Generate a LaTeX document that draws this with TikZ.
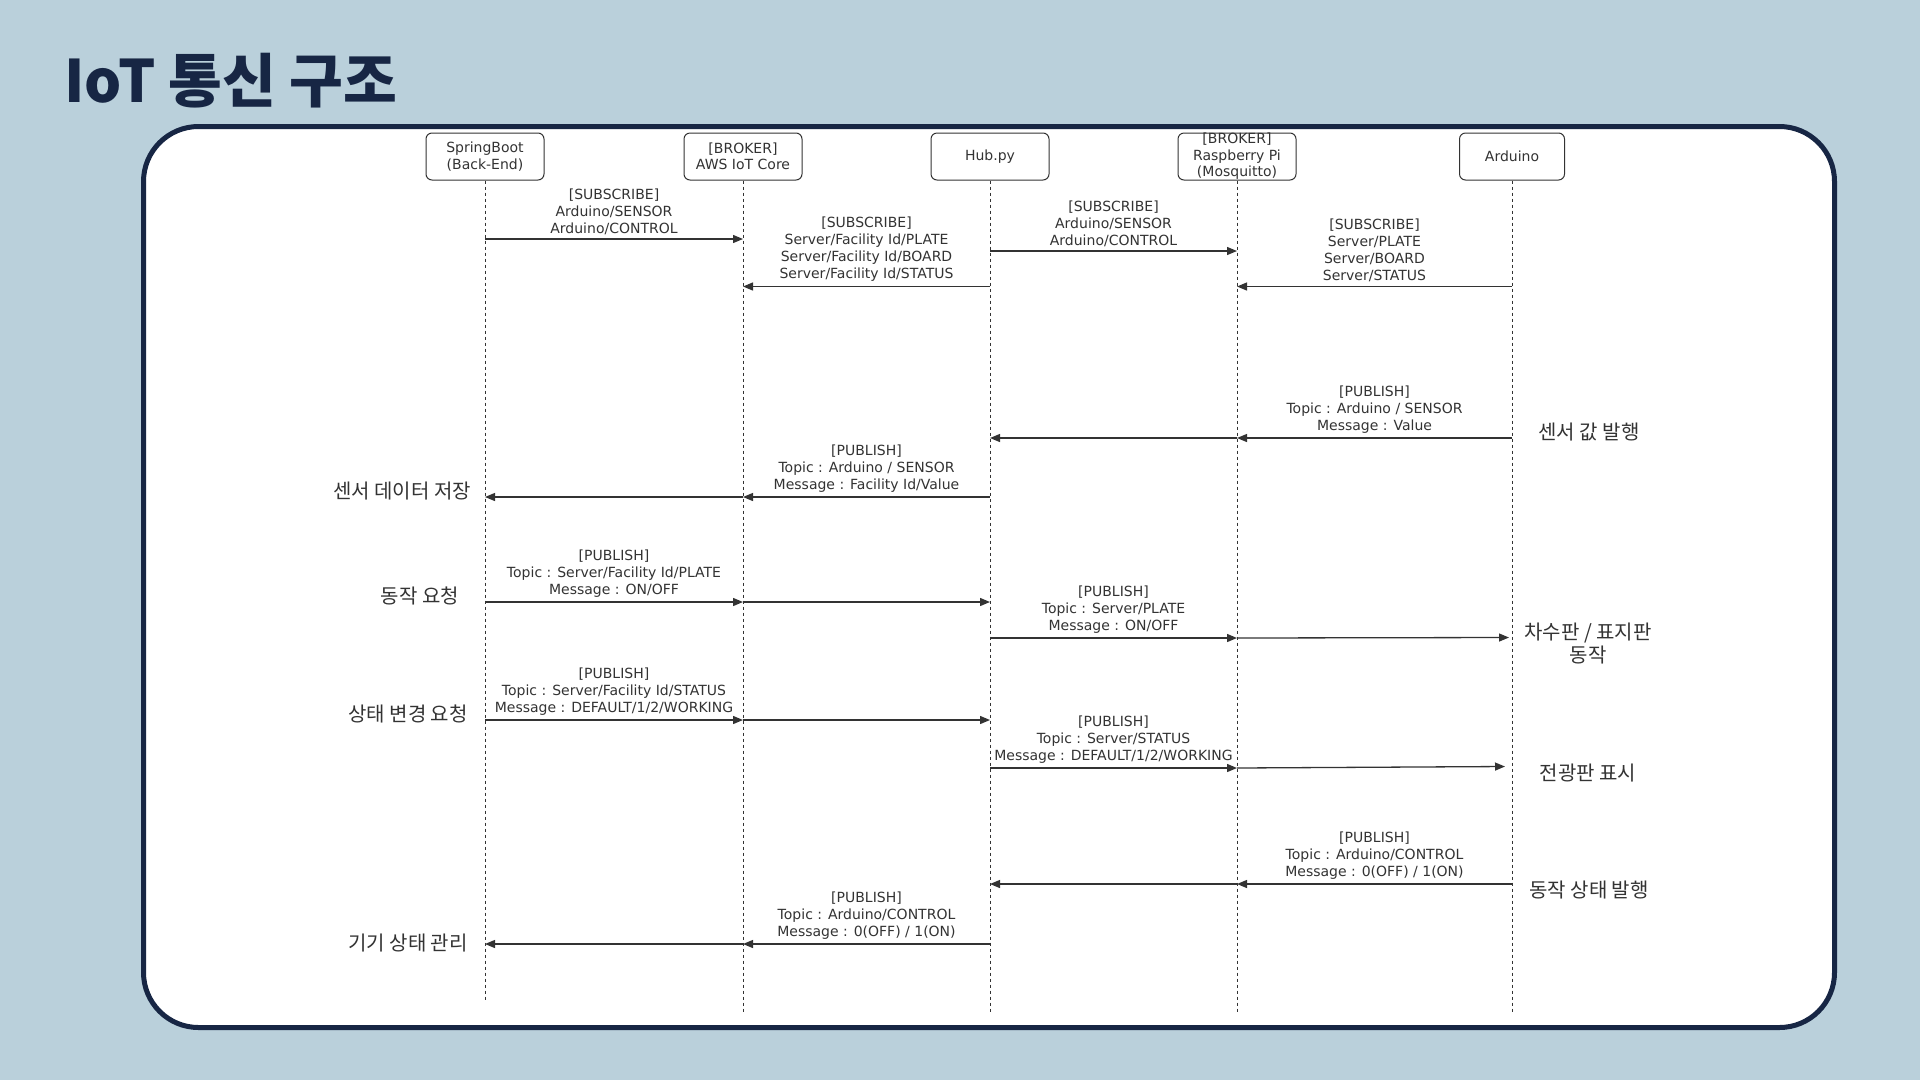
\documentclass[tikz,border=0pt]{standalone}
\usepackage{fontspec}
\setmainfont{DejaVu Sans}
\newfontfamily\kr{Noto Sans CJK KR}
\usetikzlibrary{arrows.meta,calc}
\definecolor{bg}{RGB}{186,208,219}
\definecolor{navy}{RGB}{23,38,68}
\definecolor{ink}{RGB}{51,51,51}
\begin{document}
\begin{tikzpicture}[x=1pt,y=-1pt,
  pbox/.style={draw=ink, line width=1pt, rounded corners=6pt, fill=white, minimum width=118pt, minimum height=47pt, inner sep=0pt},
  ptext/.style={font=\fontsize{14}{16.5}\selectfont, text=ink, align=center, inner sep=0pt},
  life/.style={draw=ink, line width=0.9pt, dash pattern=on 3pt off 3pt},
  msg/.style={draw=ink, line width=1.3pt, -{Triangle[length=10pt,width=8pt]}},
  mlab/.style={font=\fontsize{14}{17}\selectfont, text=ink, align=center, inner sep=0pt, above=4pt},
  side/.style={font=\kr\fontsize{20}{23}\selectfont, text=ink, align=center, inner sep=0pt},
]
\useasboundingbox (0,0) rectangle (1920,1080);
\fill[bg] (0,0) rectangle (1920,1080);
\node[anchor=base west, inner sep=0pt, font=\kr\bfseries\fontsize{58.5}{60}\selectfont, text=navy] (title) at (64,102) {IoT 통신 구조};
\draw[line width=5pt, rounded corners=55pt, draw=navy, fill=white] (143.5,126.5) rectangle (1834.5,1027.5);

% participants
\node[pbox] (sb) at (485,156.5) {};
\node[pbox] (aws) at (743,156.5) {};
\node[pbox] (hub) at (990,156.5) {};
\node[pbox] (rpi) at (1237,156.5) {};
\node[pbox, minimum width=105pt] (ard) at (1512,156.5) {};
\node[ptext] (sbt) at (sb) {SpringBoot\\(Back-End)};
\node[ptext] (awst) at (aws) {[BROKER]\\AWS IoT Core};
\node[ptext] (hubt) at (hub) {Hub.py};
\node[ptext] (rpit) at (rpi) {[BROKER]\\Raspberry Pi\\(Mosquitto)};
\node[ptext] (ardt) at (ard) {Arduino};

% lifelines
\coordinate (sbend) at (485,1002);
\coordinate (awsend) at (743,1014);
\coordinate (hubend) at (990,1014);
\coordinate (rpiend) at (1237,1014);
\coordinate (ardend) at (1512,1014);
\draw[life] (sb.south) -- (sbend);
\draw[life] (aws.south) -- (awsend);
\draw[life] (hub.south) -- (hubend);
\draw[life] (rpi.south) -- (rpiend);
\draw[life] (ard.south) -- (ardend);

% subscribe
\draw[msg] (sb |- 0,239) -- node[mlab] (l1) {[SUBSCRIBE]\\Arduino/SENSOR\\Arduino/CONTROL} (aws |- 0,239);
\draw[msg] (hub |- 0,286.5) -- node[mlab] (l2) {[SUBSCRIBE]\\Server/Facility Id/PLATE\\Server/Facility Id/BOARD\\Server/Facility Id/STATUS} (aws |- 0,286.5);
\draw[msg] (hub |- 0,251) -- node[mlab] (l3) {[SUBSCRIBE]\\Arduino/SENSOR\\Arduino/CONTROL} (rpi |- 0,251);
\draw[msg] (ard |- 0,286.5) -- node[mlab] (l4) {[SUBSCRIBE]\\Server/PLATE\\Server/BOARD\\Server/STATUS} (rpi |- 0,286.5);

% sensor publish
\draw[msg] (ard |- 0,438) -- node[mlab] (l5) {[PUBLISH]\\Topic : Arduino / SENSOR\\Message : Value} (rpi |- 0,438);
\draw[msg] (rpi |- 0,438) -- (hub |- 0,438);
\node[side] (s1) at (1589,432) {센서 값 발행};
\draw[msg] (hub |- 0,497) -- node[mlab] (l6) {[PUBLISH]\\Topic : Arduino / SENSOR\\Message : Facility Id/Value} (aws |- 0,497);
\draw[msg] (aws |- 0,497) -- (sb |- 0,497);
\node[side] (s2) at (402,491) {센서 데이터 저장};

% plate
\draw[msg] (sb |- 0,602) -- node[mlab] (l7) {[PUBLISH]\\Topic : Server/Facility Id/PLATE\\Message : ON/OFF} (aws |- 0,602);
\draw[msg] (aws |- 0,602) -- (hub |- 0,602);
\node[side] (s3) at (420,596) {동작 요청};
\draw[msg] (hub |- 0,638) -- node[mlab] (l8) {[PUBLISH]\\Topic : Server/PLATE\\Message : ON/OFF} (rpi |- 0,638);
\coordinate (a8) at ($(ard |- 0,637.5)+(-3,0)$);
\draw[msg] (rpi |- 0,638) -- (a8);
\node[side] (s4) at (1588,643) {차수판 / 표지판\\동작};

% status
\draw[msg] (sb |- 0,720) -- node[mlab] (l9) {[PUBLISH]\\Topic : Server/Facility Id/STATUS\\Message : DEFAULT/1/2/WORKING} (aws |- 0,720);
\draw[msg] (aws |- 0,720) -- (hub |- 0,720);
\node[side] (s5) at (408,714) {상태 변경 요청};
\draw[msg] (hub |- 0,768) -- node[mlab] (l10) {[PUBLISH]\\Topic : Server/STATUS\\Message : DEFAULT/1/2/WORKING} (rpi |- 0,768);
\coordinate (a10) at ($(ard |- 0,766.5)+(-7,0)$);
\draw[msg] (rpi |- 0,768) -- (a10);
\node[side] (s6) at (1588,773) {전광판 표시};

% control
\draw[msg] (ard |- 0,884) -- node[mlab] (l11) {[PUBLISH]\\Topic : Arduino/CONTROL\\Message : 0(OFF) / 1(ON)} (rpi |- 0,884);
\draw[msg] (rpi |- 0,884) -- (hub |- 0,884);
\node[side] (s7) at (1589,890) {동작 상태 발행};
\draw[msg] (hub |- 0,944) -- node[mlab] (l12) {[PUBLISH]\\Topic : Arduino/CONTROL\\Message : 0(OFF) / 1(ON)} (aws |- 0,944);
\draw[msg] (aws |- 0,944) -- (sb |- 0,944);
\node[side] (s8) at (408,943) {기기 상태 관리};
\end{tikzpicture}
\end{document}
